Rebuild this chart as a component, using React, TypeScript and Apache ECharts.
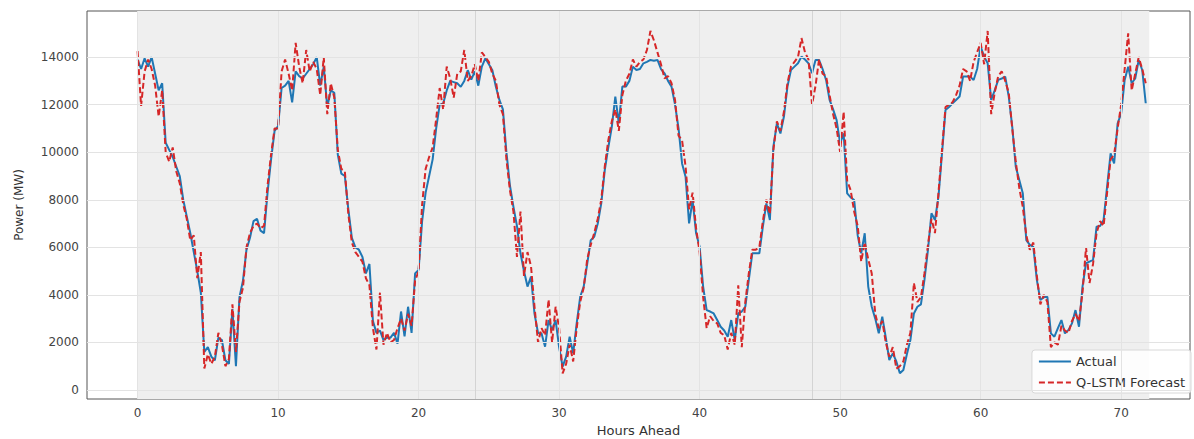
import React, { useEffect, useRef } from "react";
import * as echarts from "echarts";

const STEP_HOURS = 0.25;

const actual: number[] = [
  13900, 13500, 13950, 13600,
  14000, 13300, 12600, 12900,
  10400, 10100, 9800, 9400,
  9000, 8000, 7300, 6600,
  5800, 5000, 4100, 1600,
  1800, 1400, 1250, 2200,
  2100, 1250, 1100, 3400,
  1000, 3900, 4600, 5900,
  6400, 7100, 7200, 6700,
  6600, 8300, 9700, 10900,
  11100, 12700, 12800, 13000,
  12100, 13400, 13200, 13100,
  13300, 13500, 13700, 14000,
  12800, 13600, 11900, 12600,
  12500, 9900, 9100, 9000,
  7600, 6400, 6000, 5900,
  5600, 4900, 5300, 2900,
  2400, 2500, 2100, 2200,
  2200, 2400, 1950, 3300,
  2250, 3500, 2400, 4900,
  5050, 7100, 8300, 9000,
  9700, 11000, 12000, 12050,
  12600, 13000, 12950, 12900,
  12750, 13000, 13450, 13050,
  13400, 12800, 13600, 13950,
  13700, 13450, 12750, 12200,
  11800, 10000, 8600, 7700,
  6900, 5750, 5000, 4350,
  4770, 3200, 2400, 2380,
  1820, 2940, 2520, 2940,
  1800, 980, 1400, 2240,
  1540, 2800, 3920, 4350,
  5300, 6300, 6440, 7000,
  7850, 9250, 10200, 11070,
  12340, 11210, 12760, 12760,
  13000, 13600, 13460, 13500,
  13740, 13800, 13880, 13850,
  13880, 13500, 13320, 13000,
  12760, 12000, 11000, 9530,
  8970, 7010, 7990, 6590,
  6020, 4350, 3360, 3300,
  3220, 2940, 2660, 2500,
  2240, 2940, 2100, 3220,
  3300, 3500, 4630, 5750,
  5750, 5750, 6870, 7850,
  7150, 10230, 11210, 10790,
  11500, 12760, 13460, 13600,
  13740, 14020, 13900, 13740,
  13320, 13880, 13880, 13500,
  13040, 12200, 11800, 11350,
  10370, 10790, 8270, 8100,
  7990, 6500, 5750, 6590,
  4350, 3500, 3000, 2380,
  3080, 2200, 1260, 1540,
  1200, 700, 840, 1500,
  2100, 3220, 3500, 3600,
  4630, 5890, 7430, 7150,
  8130, 9950, 11780, 11900,
  12060, 12200, 12340, 13180,
  13180, 13180, 13040, 13500,
  14440, 14020, 13740, 12200,
  12600, 13040, 13100, 13180,
  12340, 11070, 9390, 8830,
  8270, 6300, 6100, 6020,
  4630, 3780, 3900, 3920,
  2380, 2240, 2600, 2940,
  2380, 2520, 2800, 3360,
  2660, 4350, 5330, 5400,
  5470, 6870, 6900, 7150,
  8550, 9950, 9530, 11210,
  11630, 13040, 13600, 12900,
  13100, 13880, 13460, 12060,
];

const forecast: number[] = [
  14250, 11950, 13400, 13900,
  13500, 12800, 11500, 12600,
  10000, 9600, 10200, 9200,
  8700, 7800, 7200, 6300,
  6500, 4700, 5800, 900,
  1500, 1100, 1400, 2400,
  1900, 1000, 1300, 3600,
  1600, 3700, 4300, 6000,
  6600, 6900, 7000, 6800,
  6900, 8600, 9900, 11000,
  11000, 13400, 13900, 13300,
  12600, 14600, 13600, 12900,
  14300, 13400, 13800, 13500,
  12400, 14000, 11600, 12900,
  12300, 10100, 9300, 9200,
  7400, 6200, 5800, 5600,
  5400, 4700, 4400, 2600,
  1700, 4100, 1900, 2400,
  2000, 2100, 2600, 3000,
  2500, 3200, 2700, 4600,
  5000, 7800, 9300, 9800,
  10200, 11400, 12700, 11800,
  13600, 13100, 12300, 13300,
  13400, 14300, 13000, 13200,
  13700, 13000, 14200, 14000,
  13800, 13300, 13000, 12000,
  11600, 9700, 8400, 7500,
  5600, 7500, 4800, 5800,
  5200, 3500, 2000, 2600,
  2300, 3800, 2000, 3500,
  2600, 700, 1100, 1900,
  1200, 2600, 3700, 4300,
  5500, 6100, 6600, 7200,
  8000, 9400, 10500, 11300,
  11800, 10900, 12400, 13000,
  13300, 13900, 13600, 13800,
  13900, 14300, 15100, 14700,
  14200, 13700, 13100, 13200,
  12900, 12200, 10700, 10500,
  9400, 7600, 8300, 6800,
  5800, 3900, 2600, 3100,
  2900, 2800, 2400, 2300,
  1700, 2400, 1900, 4400,
  1800, 3700, 4900, 5900,
  5900, 6000, 7100, 8000,
  7400, 10100, 11300, 10900,
  11700, 12900, 13600, 13800,
  14000, 14800, 14200, 13900,
  12000, 12800, 13900, 13300,
  13200, 12400, 11600, 11000,
  10000, 11700, 8800, 8400,
  7500, 6900, 5400, 6200,
  5500, 4900, 3200, 2600,
  2900, 2000, 1400, 1800,
  900, 1000, 1200, 1900,
  2400, 4500, 3700, 3900,
  4900, 6100, 7200, 6600,
  8300, 10100, 11900, 12000,
  12100, 12400, 12800, 13500,
  13400, 13000, 13800, 14200,
  14600, 13700, 15100, 11600,
  12500, 13200, 13400, 13000,
  12500, 11000, 9600, 8500,
  7700, 6500, 5900, 6200,
  4800, 3600, 4000, 3700,
  1800, 2000, 1900, 2700,
  2500, 2400, 2900, 3200,
  2900, 4100, 6000, 4500,
  5300, 6600, 7100, 6900,
  8300, 9700, 9900, 11000,
  12000, 13500, 15000, 12600,
  13300, 14000, 13500, 12900,
];

const xTicks = [0, 10, 20, 30, 40, 50, 60, 70];
const yTicks = [0, 2000, 4000, 6000, 8000, 10000, 12000, 14000];
const dayLines = [24, 48];
const shadeRange = [0, 72];
const seriesNames = ["Actual", "Q-LSTM Forecast"];

const BLUE = "#1f77b4";
const RED = "#d62728";

export default function App() {
  const ref = useRef<HTMLDivElement>(null);
  useEffect(() => {
    document.body.style.margin = "0";
    if (!ref.current) return;
    const chart = echarts.init(ref.current, undefined, { renderer: "svg" });
    const toPairs = (arr: number[]) => arr.map((v, i) => [i * STEP_HOURS, v]);
    const font = "DejaVu Sans, sans-serif";
    chart.setOption({
      animation: false,
      backgroundColor: "#ffffff",
      grid: {
        left: 87,
        top: 11,
        right: 4,
        bottom: 40,
        containLabel: false,
        outerBoundsMode: "none",
        show: true,
        borderColor: "#555555",
        borderWidth: 1,
        backgroundColor: "transparent",
      },
      legend: {
        data: [
          { name: seriesNames[0], lineStyle: { color: BLUE, width: 2, type: "solid" } },
          { name: seriesNames[1], lineStyle: { color: RED, width: 2, type: [6, 3] } },
        ],
        orient: "vertical",
        right: 3,
        bottom: 46,
        itemWidth: 32,
        itemHeight: 12,
        itemGap: 8,
        padding: [5, 6, 4, 6],
        backgroundColor: "rgba(255,255,255,0.85)",
        borderColor: "#d8d8d8",
        borderWidth: 1,
        borderRadius: 3,
        itemStyle: { opacity: 0, color: "transparent", borderWidth: 0 },
        textStyle: { fontFamily: font, fontSize: 13, color: "#333" },
      },
      xAxis: {
        type: "value",
        min: -3.6,
        max: 74.9,
        name: "Hours Ahead",
        nameLocation: "middle",
        nameGap: 24,
        nameTextStyle: { fontFamily: font, fontSize: 13, color: "#333" },
        axisLine: { show: false },
        axisTick: { show: true, customValues: xTicks, length: 4, lineStyle: { color: "#555" } },
        axisLabel: { customValues: xTicks, fontFamily: font, fontSize: 12, color: "#444", margin: 8 },
        splitLine: { show: false },
      },
      yAxis: {
        type: "value",
        min: -380,
        max: 15940,
        name: "Power (MW)",
        nameLocation: "middle",
        nameGap: 62,
        nameTextStyle: { fontFamily: font, fontSize: 12, color: "#333" },
        axisLine: { show: false },
        axisTick: { show: true, customValues: yTicks, length: 4, lineStyle: { color: "#555" } },
        axisLabel: {
          customValues: yTicks,
          fontFamily: font,
          fontSize: 12,
          color: "#444",
          margin: 8,
          formatter: (v: number) => String(Math.round(v)),
        },
        splitLine: { show: false },
      },
      series: [
        {
          name: "bg",
          type: "line",
          data: [],
          z: 0,
          silent: true,
          markArea: {
            silent: true,
            itemStyle: { color: "#efefef" },
            data: [[{ xAxis: shadeRange[0] }, { xAxis: shadeRange[1] }]],
          },
          markLine: {
            silent: true,
            symbol: ["none", "none"],
            label: { show: false },
            lineStyle: { color: "#e3e3e3", width: 1, type: "solid" },
            data: [
              ...yTicks.map((v) => ({ yAxis: v })),
              ...xTicks.map((v) => ({ xAxis: v })),
              ...dayLines.map((v) => ({ xAxis: v, lineStyle: { color: "#d4d4d4", width: 1, type: "solid" } })),
            ],
          },
        },
        {
          name: seriesNames[0],
          type: "line",
          data: toPairs(actual),
          showSymbol: false,
          symbol: "none",
          z: 3,
          color: BLUE,
          lineStyle: { color: BLUE, width: 2 },
        },
        {
          name: seriesNames[1],
          type: "line",
          data: toPairs(forecast),
          showSymbol: false,
          symbol: "none",
          z: 4,
          color: RED,
          lineStyle: { color: RED, width: 2, type: [6, 3] },
        },
      ],
    });
    return () => chart.dispose();
  }, []);
  return <div ref={ref} style={{ width: 1194, height: 439 }} />;
}
